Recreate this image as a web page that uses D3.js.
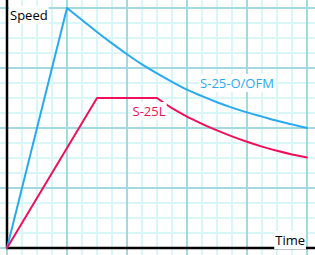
<!DOCTYPE html>
<html>
<head>
<meta charset="utf-8">
<script src="https://cdn.jsdelivr.net/npm/d3@7"></script>
<style>
  body { margin: 0; background: #fff; }
  svg { display: block; }
</style>
</head>
<body>
<div id="svg-container"></div>
<script>
// time and speed, both in grid units
const blueTime = [0, 1, 1.25, 1.5, 1.75, 2, 2.25, 2.5, 2.75, 3, 3.25, 3.5, 3.75, 4, 4.25, 4.5, 4.75, 5]
const blueSpeed = [0, 4, 3.8, 3.6, 3.41, 3.23, 3.06, 2.91, 2.77, 2.64, 2.53, 2.43, 2.34, 2.26, 2.19, 2.12, 2.06, 2.0]
const redTime = [0, 1.5, 2.5, 2.75, 3, 3.25, 3.5, 3.75, 4, 4.25, 4.5, 4.75, 5]
const redSpeed = [0, 2.5, 2.5, 2.33, 2.19, 2.07, 1.96, 1.86, 1.77, 1.69, 1.62, 1.56, 1.51]
const blueName = 'S-25-O/OFM'
const redName = 'S-25L'
const xAxisTitle = 'Time'
const yAxisTitle = 'Speed'

const svgWidth = 315
const svgHeight = 255
const marginLeft = 7
const marginTop = 8
const fontFamily = '"Open Sans", sans-serif'
const blueColor = '#29a9f1'
const redColor = '#f0105a'

const xScale = d3.scaleLinear().domain([0, 5]).range([marginLeft, marginLeft + 300])
const yScale = d3.scaleLinear().domain([0, 4]).range([marginTop + 240, marginTop])

const svg = d3
  .select('#svg-container')
  .append('svg')
  .attr('width', svgWidth)
  .attr('height', svgHeight)

svg.append('rect').attr('width', svgWidth).attr('height', svgHeight).attr('fill', '#fff')

// grid: minor every quarter unit, major every unit
const gridSteps = d3.range(0, 21).map(i => i / 4)
const grid = svg.append('g')
const drawGrid = (values, color) => {
  grid
    .selectAll(null)
    .data(values)
    .join('line')
    .attr('x1', d => xScale(d))
    .attr('x2', d => xScale(d))
    .attr('y1', 0)
    .attr('y2', svgHeight)
    .attr('stroke', color)
    .attr('stroke-width', 2)
  grid
    .selectAll(null)
    .data(values.filter(d => d <= 4))
    .join('line')
    .attr('y1', d => yScale(d))
    .attr('y2', d => yScale(d))
    .attr('x1', 0)
    .attr('x2', svgWidth)
    .attr('stroke', color)
    .attr('stroke-width', 2)
}
drawGrid(gridSteps.filter(d => d % 1 !== 0), '#d9f6f8')
drawGrid(gridSteps.filter(d => d % 1 === 0), '#a3d9e1')

// axes
svg
  .append('line')
  .attr('x1', xScale(0))
  .attr('x2', xScale(0))
  .attr('y1', 0)
  .attr('y2', yScale(0))
  .attr('stroke', '#000')
  .attr('stroke-width', 2.5)
svg
  .append('line')
  .attr('x1', xScale(0) - 1)
  .attr('x2', svgWidth)
  .attr('y1', yScale(0))
  .attr('y2', yScale(0))
  .attr('stroke', '#000')
  .attr('stroke-width', 2.5)

const straight = d3
  .line()
  .x(d => xScale(d[0]))
  .y(d => yScale(d[1]))
const smooth = d3
  .line()
  .x(d => xScale(d[0]))
  .y(d => yScale(d[1]))
  .curve(d3.curveMonotoneX)

// rising part drawn straight, the decay after the last flat point drawn smooth
const drawSeries = (times, speeds, splitIndex, color) => {
  const pts = times.map((t, i) => [t, speeds[i]])
  svg
    .append('path')
    .attr('d', straight(pts.slice(0, splitIndex + 1)) + smooth(pts.slice(splitIndex)))
    .attr('fill', 'none')
    .attr('stroke', color)
    .attr('stroke-width', 2)
    .attr('stroke-linejoin', 'round')
    .attr('stroke-linecap', 'round')
}
drawSeries(blueTime, blueSpeed, 1, blueColor)
drawSeries(redTime, redSpeed, 2, redColor)

// labels with white boxes behind
const addLabel = (text, x, y, color, anchor, size) => {
  const g = svg.append('g')
  const bg = g.append('rect').attr('fill', '#fff')
  const t = g
    .append('text')
    .attr('x', x)
    .attr('y', y)
    .attr('fill', color)
    .attr('text-anchor', anchor)
    .style('font-family', fontFamily)
    .style('font-size', `${size}px`)
    .text(text)
  const box = t.node().getBBox()
  bg.attr('x', box.x - 1)
    .attr('y', box.y)
    .attr('width', box.width + 2)
    .attr('height', box.height)
}

addLabel(yAxisTitle, 10, 20, '#000', 'start', 13)
addLabel(xAxisTitle, 305, 245, '#000', 'end', 13)
addLabel(blueName, 237, 88, blueColor, 'middle', 13)
addLabel(redName, 149, 116, redColor, 'middle', 13)
</script>
</body>
</html>
